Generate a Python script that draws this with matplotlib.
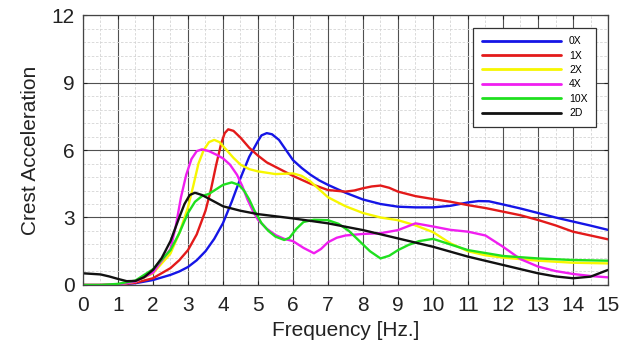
import numpy as np
import matplotlib
matplotlib.use('Agg')
import matplotlib.pyplot as plt
from matplotlib.ticker import MultipleLocator

plt.rcParams['font.family'] = ['Liberation Sans', 'DejaVu Sans']

# values (frequency in Hz, crest acceleration)
f_0x = [0, 0.5, 1, 1.5, 2, 2.5, 2.75, 3, 3.25, 3.5, 3.75, 4, 4.25, 4.5, 4.75, 5, 5.1, 5.25, 5.4, 5.6, 5.8,
        6, 6.25, 6.5, 6.75, 7, 7.5, 8, 8.5, 9, 9.5, 10, 10.5, 11, 11.3, 11.6, 12, 12.5, 13, 13.5, 14, 14.5, 15]
a_0x = [0, 0, 0.02, 0.08, 0.22, 0.45, 0.6, 0.8, 1.1, 1.5, 2.05, 2.75, 3.7, 4.75, 5.7, 6.4, 6.65, 6.75, 6.7, 6.45, 6.0,
        5.55, 5.2, 4.9, 4.65, 4.45, 4.1, 3.8, 3.6, 3.48, 3.45, 3.45, 3.52, 3.67, 3.73, 3.72, 3.58, 3.4, 3.2, 3.0,
        2.82, 2.64, 2.45]

f_1x = [0, 0.5, 1, 1.5, 2, 2.5, 2.75, 3, 3.25, 3.5, 3.65, 3.8, 3.95, 4.05, 4.15, 4.3, 4.5, 4.75, 5, 5.25, 5.5, 5.75,
        6, 6.5, 7, 7.5, 7.75, 8, 8.25, 8.5, 8.75, 9, 9.5, 10, 10.5, 11, 11.5, 12, 12.5, 13, 13.5, 14, 14.5, 15]
a_1x = [0, 0, 0.02, 0.1, 0.3, 0.75, 1.1, 1.55, 2.25, 3.3, 4.2, 5.3, 6.3, 6.75, 6.92, 6.85, 6.55, 6.1, 5.75, 5.45, 5.25,
        5.05, 4.85, 4.5, 4.22, 4.15, 4.2, 4.3, 4.38, 4.42, 4.32, 4.15, 3.95, 3.82, 3.7, 3.55, 3.42, 3.26, 3.1, 2.89,
        2.65, 2.37, 2.2, 2.03]

f_2x = [0, 0.5, 1, 1.5, 2, 2.5, 2.75, 3, 3.15, 3.3, 3.45, 3.6, 3.75, 3.9, 4.1, 4.3, 4.5, 4.75, 5, 5.5, 6, 6.25,
        6.5, 6.75, 7, 7.5, 8, 8.5, 9, 9.5, 10, 10.5, 11, 11.5, 12, 13, 14, 15]
a_2x = [0, 0, 0.02, 0.15, 0.52, 1.4, 2.3, 3.45, 4.4, 5.4, 6.0, 6.35, 6.45, 6.35, 6.0, 5.65, 5.35, 5.15, 5.05, 4.93,
        4.96, 4.85, 4.6, 4.25, 3.9, 3.5, 3.2, 3.0, 2.88, 2.65, 2.35, 1.85, 1.5, 1.32, 1.22, 1.08, 0.99, 0.96]

f_4x = [0, 0.5, 1, 1.5, 2, 2.5, 2.65, 2.8, 2.95, 3.1, 3.25, 3.4, 3.6, 3.8, 4, 4.2, 4.4, 4.55, 4.7, 4.85, 5, 5.25,
        5.5, 5.75, 6, 6.3, 6.6, 6.8, 7, 7.25, 7.5, 8, 8.5, 9, 9.5, 10, 10.5, 11, 11.5, 12, 12.5, 13, 13.5, 14,
        14.5, 15]
a_4x = [0, 0, 0.02, 0.15, 0.55, 1.6, 2.6, 3.9, 4.9, 5.6, 5.95, 6.03, 5.95, 5.8, 5.63, 5.35, 4.9, 4.4, 3.8, 3.3, 2.9,
        2.5, 2.22, 2.05, 1.95, 1.65, 1.41, 1.6, 1.9, 2.1, 2.2, 2.27, 2.3, 2.44, 2.74, 2.6, 2.45, 2.37, 2.2, 1.7,
        1.15, 0.82, 0.62, 0.49, 0.4, 0.34]

f_10x = [0, 0.5, 1, 1.5, 2, 2.5, 2.75, 3, 3.2, 3.4, 3.6, 3.8, 4, 4.25, 4.45, 4.6, 4.75, 4.9, 5.1, 5.3, 5.5, 5.75,
         5.9, 6.1, 6.3, 6.6, 7, 7.3, 7.6, 7.9, 8.2, 8.5, 8.75, 9, 9.3, 9.6, 10, 10.3, 10.6, 11, 12, 13, 14, 15]
a_10x = [0, 0, 0.05, 0.2, 0.7, 1.55, 2.3, 3.2, 3.7, 3.95, 4.05, 4.25, 4.45, 4.56, 4.45, 4.2, 3.8, 3.3, 2.75, 2.4,
         2.15, 2.0, 2.1, 2.5, 2.8, 2.9, 2.88, 2.72, 2.4, 1.95, 1.5, 1.18, 1.3, 1.55, 1.78, 1.95, 2.05, 1.9, 1.75,
         1.55, 1.29, 1.18, 1.11, 1.08]

f_2d = [0, 0.5, 0.75, 1, 1.25, 1.5, 1.75, 2, 2.25, 2.5, 2.75, 2.9, 3.05, 3.2, 3.4, 3.7, 4, 4.5, 5, 6, 7, 8, 9, 10,
        11, 12, 13, 13.5, 14, 14.5, 15]
a_2d = [0.52, 0.47, 0.38, 0.27, 0.17, 0.18, 0.35, 0.67, 1.2, 1.95, 3.0, 3.6, 4.0, 4.1, 4.0, 3.75, 3.5, 3.3, 3.15,
        2.96, 2.74, 2.44, 2.07, 1.7, 1.26, 0.89, 0.52, 0.38, 0.3, 0.37, 0.67]

series = [
    ('0X', f_0x, a_0x, '#1515e6'),
    ('1X', f_1x, a_1x, '#e31a1a'),
    ('2X', f_2x, a_2x, '#f7f700'),
    ('4X', f_4x, a_4x, '#f01ef0'),
    ('10X', f_10x, a_10x, '#1fe01f'),
    ('2D', f_2d, a_2d, '#111111'),
]

fig = plt.figure(figsize=(6.22, 3.55), dpi=100)
ax = fig.add_axes([0.1334, 0.1972, 0.8441, 0.7605])

for name, f, a, c in series:
    ax.plot(f, a, color=c, lw=1.7, label=name, solid_capstyle='round', solid_joinstyle='round')

ax.set_xlim(0, 15)
ax.set_ylim(0, 12)
ax.xaxis.set_major_locator(MultipleLocator(1))
ax.xaxis.set_minor_locator(MultipleLocator(0.5))
ax.yaxis.set_major_locator(MultipleLocator(3))
ax.yaxis.set_minor_locator(MultipleLocator(0.6))

ax.grid(which='major', color='#505050', lw=0.8)
ax.grid(which='minor', color='#d4d4d4', lw=0.6, ls=(0, (3, 2)))
ax.set_axisbelow(True)

ax.tick_params(which='both', direction='in', top=True, right=True)
ax.tick_params(which='major', length=3, labelsize=15, colors='#222222', pad=6)
ax.tick_params(which='minor', length=0)
ax.tick_params(axis='x', pad=8)
for s in ax.spines.values():
    s.set_color('#444444')
    s.set_linewidth(0.9)

ax.set_xlabel('Frequency [Hz.]', fontsize=15, color='#222222', labelpad=4)
ax.set_ylabel('Crest Acceleration', fontsize=15, color='#222222', labelpad=8)

leg = ax.legend(loc='upper right', bbox_to_anchor=(0.977, 0.952), fontsize=7.5,
                handlelength=7.6, handletextpad=0.8, labelspacing=0.42,
                borderpad=0.8, fancybox=False, framealpha=1, borderaxespad=0)
leg.get_frame().set_edgecolor('#333333')
leg.get_frame().set_linewidth(0.9)
for line in leg.get_lines():
    line.set_linewidth(2.0)

fig.savefig('out.png', dpi=100)
